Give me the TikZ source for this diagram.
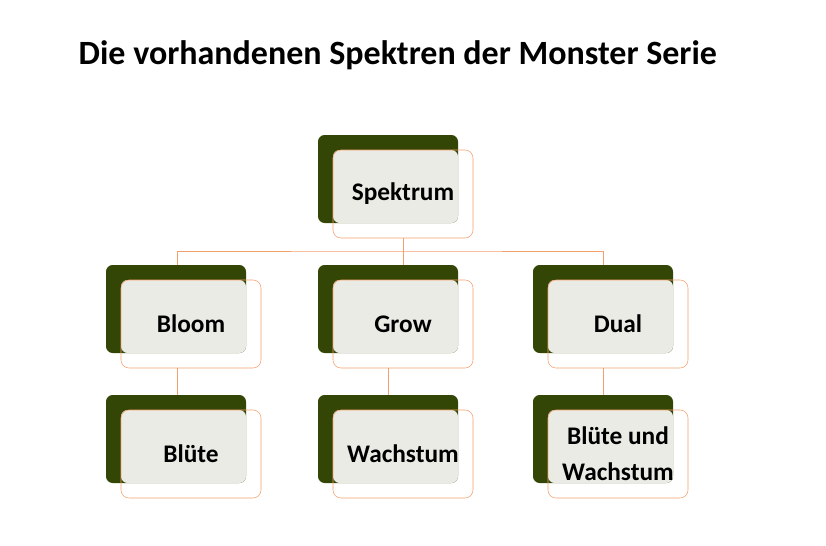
\documentclass[tikz,border=0pt]{standalone}
\usepackage{fontspec}
\setmainfont{Carlito}
\usetikzlibrary{positioning,backgrounds}
\definecolor{leaf}{RGB}{52,70,6}
\definecolor{paper}{RGB}{235,235,230}
\definecolor{rim}{RGB}{244,160,110}
\tikzset{
  back/.style={fill=leaf,rounded corners=5pt},
  card/.style={draw=rim,rounded corners=6pt,minimum width=105pt,minimum height=66pt,
    inner sep=0pt,align=center,font=\bfseries\fontsize{19}{27}\selectfont},
  link/.style={draw=rim,line width=0.6pt}
}
% one box: green back, grey overlap, orange card
\newcommand{\spbox}[4]{%
  \fill[back] (#2,#3) rectangle ++(140,88);
  \fill[paper,rounded corners=5pt] (#2+15,#3+15) rectangle (#2+140,#3+88);
  \node[card] (#1) at (#2+85,#3+59) {#4};
}
\begin{document}
\begin{tikzpicture}[x=0.75pt,y=-0.75pt]
    \useasboundingbox (0,0) rectangle (826,546);
    \node[font=\bfseries\fontsize{25.5}{30}\selectfont,anchor=west] (title) at (74,55)
      {Die vorhandenen Spektren der Monster Serie};
    \spbox{spek}{318}{135}{Spektrum}
    \spbox{bloom}{106}{265}{Bloom}
    \spbox{grow}{318}{265}{Grow}
    \spbox{dual}{533}{265}{Dual}
    \spbox{blute}{106}{395}{Blüte}
    \spbox{wachs}{318}{395}{Wachstum}
    \spbox{both}{533}{395}{Blüte und\\Wachstum}
    % links behind the boxes
    \begin{scope}[on background layer]
    \coordinate (bar) at (spek.south |- 0,251);
    \draw[link] (spek.south) -- (bar);
    \draw[link] (bloom.north -| 177,0) |- (bar) -| (dual.north -| 603,0);
    \draw[link] (bar) -- (bar |- grow.north);
    \draw[link] (177,368) -- (177,410);
    \draw[link] (388,368) -- (388,410);
    \draw[link] (603,368) -- (603,410);
    \end{scope}
\end{tikzpicture}
\end{document}
